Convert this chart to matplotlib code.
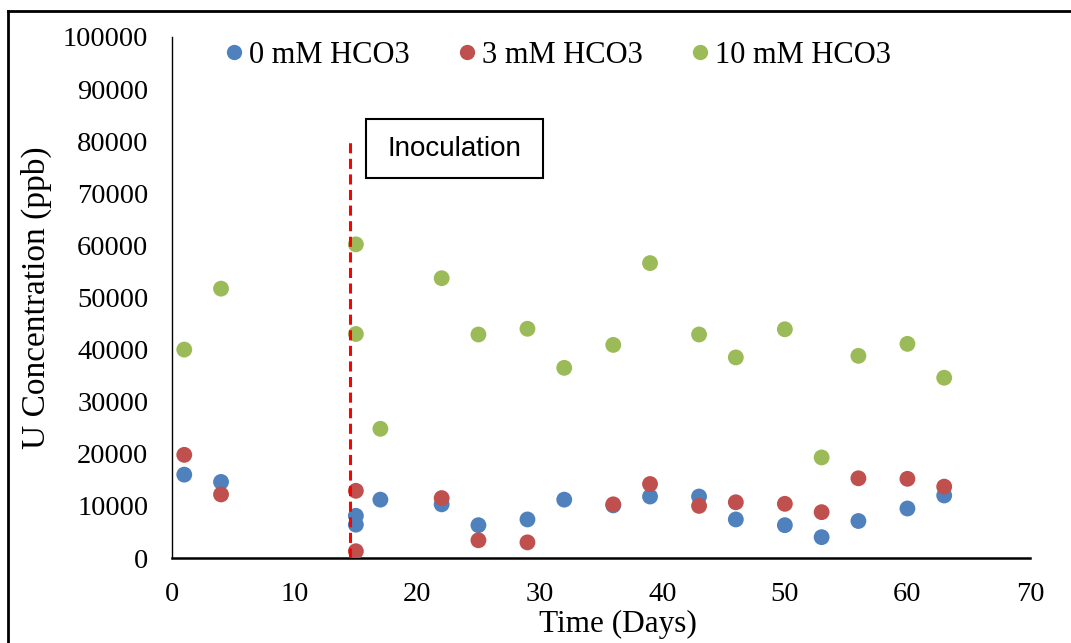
import matplotlib
matplotlib.use("Agg")
import matplotlib.pyplot as plt
from matplotlib.lines import Line2D
from matplotlib.patches import Rectangle

days = [1, 4, 15, 15, 17, 22, 25, 29, 32, 36, 39, 43, 46, 50, 53, 56, 60, 63]
u_0mM = [16000, 14600, 8100, 6400, 11200, 10300, 6300, 7400, 11200, 10100, 11800, 11800, 7400, 6300, 4000, 7100, 9500, 12000]
days_3mM = [1, 4, 15, 15, 22, 25, 29, 36, 39, 43, 46, 50, 53, 56, 60, 63]
u_3mM = [19800, 12200, 12900, 1300, 11500, 3400, 3000, 10300, 14200, 10000, 10700, 10400, 8800, 15300, 15200, 13700]
u_10mM = [40000, 51700, 60200, 43000, 24800, 53700, 42900, 44000, 36500, 40900, 56600, 42900, 38500, 43900, 19300, 38800, 41100, 34600]
labels = ["0 mM HCO3", "3 mM HCO3", "10 mM HCO3"]
colors = ["#4F81BD", "#C0504D", "#9BBB59"]

serif = ["Liberation Serif", "DejaVu Serif"]

fig = plt.figure(figsize=(10.71, 6.43), dpi=100)
ax = fig.add_axes([172/1071, 1-558/643, (1030-172)/1071, (558-37)/643])

ax.scatter(days, u_0mM, s=130, color=colors[0], edgecolors="none", zorder=3)
ax.scatter(days_3mM, u_3mM, s=130, color=colors[1], edgecolors="none", zorder=3)
ax.scatter(days, u_10mM, s=130, color=colors[2], edgecolors="none", zorder=3)

# inoculation line
ax.plot([14.55, 14.55], [0, 80500], color="#FF0000", lw=2.2, ls=(0, (3.3, 1.8)), zorder=4)
ax.add_patch(Rectangle((15.8, 72900), 14.5, 11400, facecolor="white",
                       edgecolor="black", lw=1.5, zorder=5))
ax.text(23.05, 78500, "Inoculation", ha="center", va="center",
        fontsize=20, family=["Liberation Sans", "DejaVu Sans"], zorder=6)

ax.set_xlim(0, 70)
ax.set_ylim(0, 100000)
ax.set_xticks(range(0, 71, 10))
ax.set_yticks(range(0, 100001, 10000))
ax.tick_params(length=0, labelsize=20.5)
ax.tick_params(axis="y", pad=17)
ax.tick_params(axis="x", pad=17)
for lab in ax.get_xticklabels() + ax.get_yticklabels():
    lab.set_family(serif)
for s in ["top", "right"]:
    ax.spines[s].set_visible(False)
ax.spines["left"].set_linewidth(1.0)
ax.spines["bottom"].set_linewidth(1.8)

ax.set_xlabel("Time (Days)", fontsize=22.5, family=serif, va="center")
ax.xaxis.set_label_coords(0.52, -0.127)
ax.set_ylabel("U Concentration (ppb)", fontsize=24, family=serif, labelpad=8)

handles = [Line2D([], [], ls="none", marker="o", markersize=11, color=c, markeredgecolor="none") for c in colors]
ax.legend(handles, labels, loc="upper left", bbox_to_anchor=(0.0295, 1.045), ncol=3,
          frameon=False, prop={"family": serif, "size": 22},
          handlelength=0.6, handletextpad=0.2, columnspacing=1.56)

# outer frame
fig.add_artist(Line2D([8/1071, 8/1071], [0, 1-11/643], color="black", lw=2, transform=fig.transFigure))
fig.add_artist(Line2D([8/1071, 1], [1-11/643, 1-11/643], color="black", lw=2, transform=fig.transFigure))

fig.savefig("out.png", dpi=100)
